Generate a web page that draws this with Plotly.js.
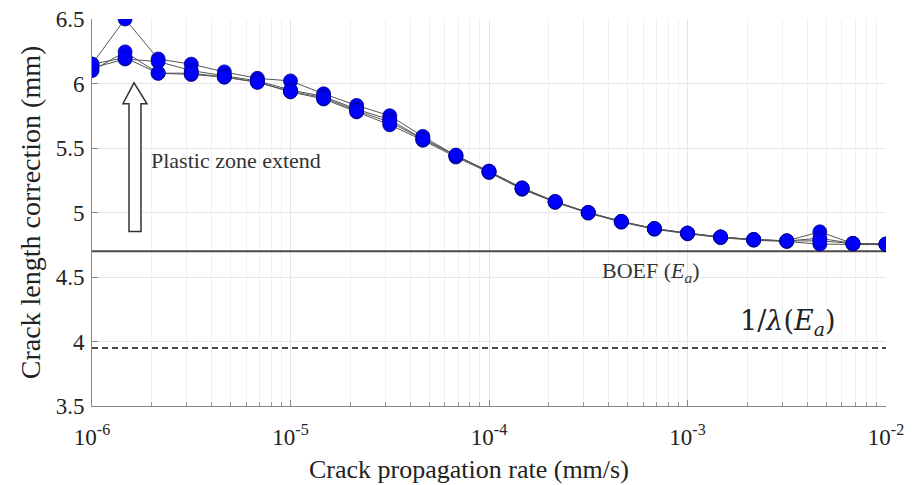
<!DOCTYPE html>
<html>
<head>
<meta charset="utf-8">
<script src="https://cdn.plot.ly/plotly-3.0.1.min.js"></script>
<style>html,body{margin:0;padding:0;background:#fff;} #chart{width:921px;height:485px;}</style>
</head>
<body>
<div id="chart"></div>
<script>
// Crack propagation rate (mm/s)
const rates = [1e-6, 1.468e-6, 2.154e-6, 3.162e-6, 4.642e-6, 6.813e-6,
  1e-5, 1.468e-5, 2.154e-5, 3.162e-5, 4.642e-5, 6.813e-5,
  1e-4, 1.468e-4, 2.154e-4, 3.162e-4, 4.642e-4, 6.813e-4,
  1e-3, 1.468e-3, 2.154e-3, 3.162e-3, 4.642e-3, 6.813e-3, 1e-2];

// Crack length correction (mm), several runs
const run1 = [6.15, 6.50, 6.19, 6.15, 6.09, 6.04, 6.02, 5.92, 5.83, 5.75, 5.59, 5.44, 5.32, 5.19, 5.085, 5.00, 4.93, 4.875, 4.84, 4.81, 4.79, 4.78, 4.85, 4.76, 4.755];
const run2 = [6.10, 6.245, 6.08, 6.07, 6.05, 6.01, 5.935, 5.88, 5.78, 5.68, 5.56, 5.43, 5.31, 5.18, 5.08, 4.995, 4.925, 4.87, 4.835, 4.805, 4.785, 4.775, 4.755, 4.755, 4.75];
const run3 = [6.12, 6.19, 6.17, 6.10, 6.06, 6.02, 5.95, 5.90, 5.80, 5.72, 5.57, 5.44, 5.315, 5.185, 5.08, 5.00, 4.93, 4.875, 4.84, 4.81, 4.79, 4.78, 4.80, 4.76, 4.755];
const run4 = [6.15, 6.20, 6.08, 6.08, 6.05, 6.01, 5.94, 5.89, 5.79, 5.70, 5.57, 5.445, 5.32, 5.19, 5.085, 5.00, 4.93, 4.875, 4.84, 4.81, 4.79, 4.78, 4.78, 4.76, 4.755];
const runs = [run1, run2, run3, run4];

const boefValue = 4.7;       // BOEF (Ea)
const lambdaValue = 3.95;    // 1/lambda(Ea)
const xRange = [1e-6, 1e-2];

const xTickVals = [1e-6, 1e-5, 1e-4, 1e-3, 1e-2];
const xTickText = ['10<sup>-6</sup>', '10<sup>-5</sup>', '10<sup>-4</sup>', '10<sup>-3</sup>', '10<sup>-2</sup>'];

const serif = '"Liberation Serif", "Times New Roman", serif';
const traces = [];

traces.push({x: xRange, y: [boefValue, boefValue], mode: 'lines', line: {color: '#4a4a4a', width: 2}, hoverinfo: 'skip'});
traces.push({x: xRange, y: [lambdaValue, lambdaValue], mode: 'lines', line: {color: '#4a4a4a', width: 2, dash: '6px,4px'}, hoverinfo: 'skip'});

runs.forEach(r => traces.push({x: rates, y: r, mode: 'lines', line: {color: '#555', width: 1}}));
runs.forEach(r => traces.push({x: rates, y: r, mode: 'markers',
  marker: {color: '#0000ff', size: 14, line: {color: '#00008b', width: 0.8}}}));

const layout = {
  width: 921, height: 485,
  margin: {l: 92, r: 35, t: 19, b: 79},
  paper_bgcolor: '#fff', plot_bgcolor: '#fff',
  showlegend: false,
  font: {family: serif, color: '#222'},
  xaxis: {
    type: 'log', range: [-6, -2],
    tickmode: 'array', tickvals: xTickVals, ticktext: xTickText,
    tickfont: {size: 23, family: serif, color: '#222'},
    ticks: 'inside', ticklen: 6, tickcolor: '#888',
    ticklabelstandoff: 10,
    showline: true, linecolor: '#888', linewidth: 1,
    showgrid: true, gridcolor: '#e6e6e6', gridwidth: 1,
    minor: {dtick: 'D1', showgrid: true, gridcolor: '#f0f0f0', ticks: 'inside', ticklen: 4, tickcolor: '#999'},
    zeroline: false
  },
  yaxis: {
    range: [3.5, 6.5], dtick: 0.5,
    tickfont: {size: 23, family: serif, color: '#222'},
    ticks: 'inside', ticklen: 6, tickcolor: '#888',
    ticklabelstandoff: 2,
    showline: true, linecolor: '#888', linewidth: 1,
    showgrid: true, gridcolor: '#e6e6e6', gridwidth: 1,
    zeroline: false,
    title: {text: 'Crack length correction (mm)', font: {size: 28, family: serif, color: '#222'}, standoff: 6}
  },
  shapes: [{
    type: 'path', xref: 'paper', yref: 'y',
    path: 'M 0.0466 4.853 L 0.0617 4.853 L 0.0617 5.843 L 0.0693 5.843 L 0.0529 6.005 L 0.039 5.843 L 0.0466 5.843 Z',
    fillcolor: '#ffffff', line: {color: '#333', width: 1.5}
  }],
  annotations: [
    {xref: 'paper', yref: 'paper', x: (469 - 92) / 794, y: (406 - 470) / 387, xanchor: 'center', yanchor: 'middle',
      text: 'Crack propagation rate (mm/s)', showarrow: false, font: {size: 26, family: serif, color: '#222'}},
    {xref: 'paper', yref: 'paper', x: (149 - 92) / 794, y: (406 - 160) / 387, xanchor: 'left', yanchor: 'middle',
      text: 'Plastic zone extend', showarrow: false, font: {size: 22, family: serif, color: '#333'}},
    {xref: 'paper', yref: 'paper', x: (600 - 92) / 794, y: (406 - 272) / 387, xanchor: 'left', yanchor: 'middle',
      text: 'BOEF (<i>E</i><sub><i>a</i></sub>)', showarrow: false, font: {size: 22, family: serif, color: '#333'}},
    {xref: 'paper', yref: 'paper', x: (738 - 92) / 794, y: (406 - 322) / 387, xanchor: 'left', yanchor: 'middle',
      text: '1/<i>λ</i>(<i>E</i><sub><i>a</i></sub>)', showarrow: false, font: {size: 27, family: '"DejaVu Serif", serif', color: '#222'}}
  ]
};

Plotly.newPlot('chart', traces, layout, {staticPlot: true, displayModeBar: false});
</script>
</body>
</html>
